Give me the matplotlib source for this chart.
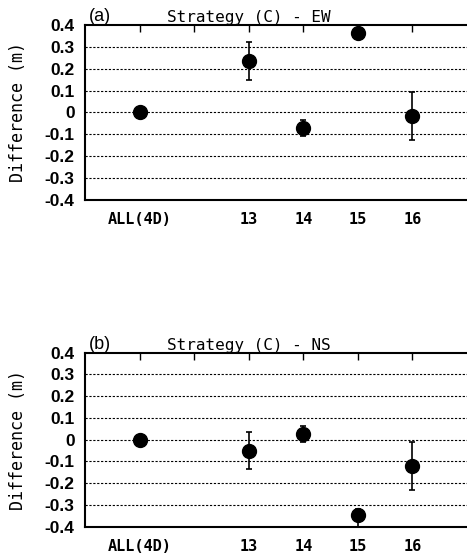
import matplotlib
matplotlib.use("Agg")
import matplotlib.pyplot as plt

# x categories (position 2 is an unlabeled tick)
positions = [1, 3, 4, 5, 6]
tick_pos = [1, 2, 3, 4, 5, 6]
tick_labels = ["ALL(4D)", "", "13", "14", "15", "16"]

# panel (a) EW
ew_vals = [0.0, 0.235, -0.07, 0.365, -0.015]
ew_lo = [0.0, 0.085, 0.037, 0.0, 0.11]
ew_hi = [0.0, 0.085, 0.037, 0.0, 0.11]

# panel (b) NS
ns_vals = [0.0, -0.05, 0.025, -0.345, -0.12]
ns_lo = [0.0, 0.085, 0.037, 0.06, 0.11]
ns_hi = [0.0, 0.085, 0.037, 0.025, 0.11]

panels = [
    ("(a)", "Strategy (C) - EW", ew_vals, ew_lo, ew_hi),
    ("(b)", "Strategy (C) - NS", ns_vals, ns_lo, ns_hi),
]

fig = plt.figure(figsize=(4.67, 5.58), dpi=100)
rects = [[0.182, 0.6416, 0.818, 0.3136], [0.182, 0.056, 0.818, 0.3122]]
yticks = [-0.4, -0.3, -0.2, -0.1, 0, 0.1, 0.2, 0.3, 0.4]
ylabels = ["-0.4", "-0.3", "-0.2", "-0.1", "0", "0.1", "0.2", "0.3", "0.4"]

for rect, (tag, title, vals, lo, hi) in zip(rects, panels):
    ax = fig.add_axes(rect)
    ax.errorbar(positions, vals, yerr=[lo, hi], fmt="o", color="black",
                markersize=10, elinewidth=1.2, capsize=2.5, capthick=1.2,
                zorder=3, clip_on=True)
    ax.set_xlim(0, 7)
    ax.set_ylim(-0.4, 0.4)
    ax.set_yticks(yticks)
    ax.set_yticklabels(ylabels, fontsize=12.5, fontweight="bold",
                       family="Liberation Sans")
    ax.set_xticks(tick_pos)
    ax.set_xticklabels(tick_labels, fontsize=11, fontweight="bold",
                       family="DejaVu Sans Mono")
    for y in [-0.3, -0.2, -0.1, 0, 0.1, 0.2, 0.3]:
        ax.axhline(y, color="black", linewidth=0.8, linestyle=(0, (2, 1.5)),
                   zorder=1)
    ax.tick_params(axis="x", bottom=False, top=True, direction="in",
                   length=5, width=1, pad=9)
    ax.tick_params(axis="y", left=False, pad=4)
    ax.spines["right"].set_visible(False)
    for s in ["left", "top", "bottom"]:
        ax.spines[s].set_linewidth(1.5)
    ax.set_ylabel("Difference (m)", fontsize=12, family="DejaVu Sans Mono",
                  labelpad=13)
    ax.text(0.01, 1.0, tag, transform=ax.transAxes, fontsize=13,
            family="Liberation Sans", va="bottom", ha="left")
    ax.text(0.43, 1.0, title, transform=ax.transAxes, fontsize=11.5,
            family="DejaVu Sans Mono", va="bottom", ha="center")

fig.savefig("out.png", dpi=100)
